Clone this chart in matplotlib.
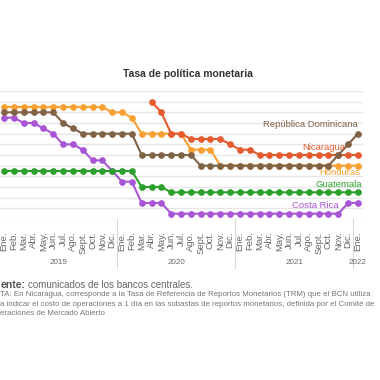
import numpy as np
import matplotlib
matplotlib.use("Agg")
import matplotlib.pyplot as plt
import matplotlib.transforms as mtransforms

plt.rcParams['font.family'] = ['Liberation Sans', 'DejaVu Sans']

# --- data -------------------------------------------------------------
month_labels = ["Ene.", "Feb.", "Mar.", "Abr.", "May.", "Jun.", "Jul.",
                "Ago.", "Sept.", "Oct.", "Nov.", "Dic."] * 3 + ["Ene."]
years = ["2019", "2020", "2021", "2022"]
year_centers = [5.5, 17.5, 29.5, 36]
year_breaks = [11.5, 23.5, 35.5]

nan = np.nan
costa_rica = [5.25, 5.25, 5.0, 5.0, 4.75, 4.5, 4.0, 4.0, 3.75, 3.25, 3.25, 2.75,
              2.25, 2.25, 1.25, 1.25, 1.25] + [0.75] * 18 + [1.25, 1.25]
guatemala = [2.75] * 14 + [2.0] * 3 + [1.75] * 20
honduras = [5.75] * 11 + [5.5, 5.5, 5.25] + [4.5] * 5 + [3.75] * 3 + [3.0] * 15
nicaragua = [nan] * 15 + [6.0, 5.5, 4.5, 4.5] + [4.25] * 4 + [4.0, 3.75, 3.75] + [3.5] * 11
rep_dom = [5.5] * 6 + [5.0, 4.75] + [4.5] * 6 + [3.5] * 6 + [3.0] * 14 + [3.5, 4.0, 4.5]

series = [
    ("Costa Rica", costa_rica, "#a855d6"),
    ("Guatemala", guatemala, "#2ca02c"),
    ("Honduras", honduras, "#f9a033"),
    ("Nicaragua", nicaragua, "#e55a2f"),
    ("República Dominicana", rep_dom, "#806246"),
]

# label anchors (right edge x, centre y) in data coords
label_pos = {
    "Costa Rica": (34.0, 1.11),
    "Guatemala": (36.4, 2.14),
    "Honduras": (36.2, 2.66),
    "Nicaragua": (34.7, 3.86),
    "República Dominicana": (36.0, 4.91),
}

# --- figure -----------------------------------------------------------
W = H = 380
fig = plt.figure(figsize=(3.8, 3.8), dpi=100)
fig.patch.set_facecolor("white")

ax_left, ax_right, ax_top, ax_bottom = -0.9, 362.9, 91, 219
ax = fig.add_axes([ax_left / W, 1 - ax_bottom / H,
                   (ax_right - ax_left) / W, (ax_bottom - ax_top) / H])

x = np.arange(len(month_labels))
for name, vals, col in series:
    ax.plot(x, vals, color=col, lw=1.5, marker="o", ms=3.8,
            markerfacecolor=col, markeredgecolor=col, zorder=3)
    lx, ly = label_pos[name]
    ax.text(lx, ly, name, color=col, fontsize=6.8, ha="right", va="center",
            zorder=4)

ax.set_xlim(-0.5, 36.5)
ax.set_ylim(0.5, 6.5)
ax.set_yticks(np.arange(0.5, 6.51, 0.5))
ax.set_yticklabels([])
ax.tick_params(axis="y", length=0)
ax.grid(axis="y", color="#e6e6e6", lw=1, zorder=0)
for s in ax.spines.values():
    s.set_visible(False)

ax.set_xticks(x)
ax.set_xticklabels(month_labels, rotation=90, fontsize=6.8, color="#666666")
ax.tick_params(axis="x", length=0, pad=9)

trans = mtransforms.blended_transform_factory(ax.transData, ax.transAxes)
for xb in year_breaks:
    ax.plot([xb, xb], [0, -49 / 128], transform=trans, color="#d8d8d8",
            lw=0.8, clip_on=False)
for yr, xc in zip(years, year_centers):
    ax.text(xc, -(262.5 - 219) / 128, yr, transform=trans, fontsize=5.8,
            color="#666666", ha="center", va="center")

fig.text(188 / W, 1 - 74 / H, "Tasa de política monetaria", fontsize=7.5,
         fontweight="bold", color="#333333", ha="center", va="center")

# source and note: the frame of the original cuts their first letters
x0 = 0.3 / W
fig.text(x0, 1 - 285 / H, "ente:", fontsize=7.6, fontweight="bold",
         color="#555555", ha="left", va="center")
fig.text(28.5 / W, 1 - 285 / H, "comunicados de los bancos centrales.",
         fontsize=7, color="#666666", ha="left", va="center")
notes = [
    "TA: En Nicaragua, corresponde a la Tasa de Referencia de Reportos Monetarios (TRM) que el BCN utiliza",
    "a indicar el costo de operaciones a 1 día en las subastas de reportos monetarios, definida por el Comité de",
    "eraciones de Mercado Abierto",
]
for i, line in enumerate(notes):
    fig.text(x0, 1 - (294.5 + i * 9.6) / H, line, fontsize=5.7,
             color="#777777", ha="left", va="center")

fig.savefig("out.png", dpi=100, facecolor="white")
